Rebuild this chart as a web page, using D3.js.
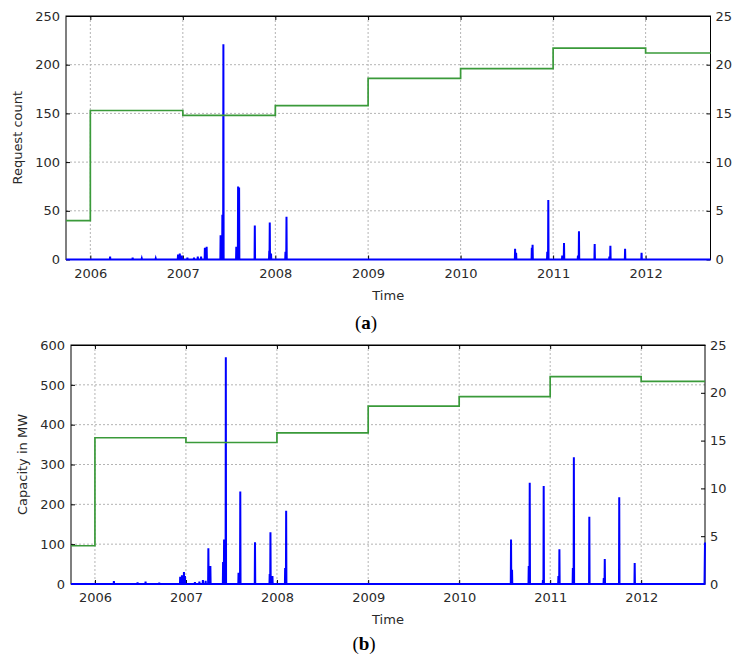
<!DOCTYPE html>
<html>
<head>
<meta charset="utf-8">
<script src="https://cdn.jsdelivr.net/npm/d3@7"></script>
<style>
  body { margin: 0; background: #fff; }
  text { font-family: "DejaVu Sans", sans-serif; }
</style>
</head>
<body>
<svg id="chart" width="732" height="658"></svg>
<script>
// time range of both panels
var startDate = "2005-09-27", endDate = "2012-09-13";

// right axis series (green steps), shared by both panels
var stepDates  = ["2005-09-27", "2006-01-01", "2007-01-01", "2008-01-01", "2009-01-01", "2010-01-01", "2011-01-01", "2012-01-01"];
var stepValues = [4, 15.3, 14.8, 15.8, 18.6, 19.6, 21.7, 21.2];

// panel (a): request count spikes
var requestDates = ["2006-03-20", "2006-06-17", "2006-07-23", "2006-09-16", "2006-12-13", "2006-12-20", "2006-12-28",
  "2007-01-19", "2007-02-14", "2007-03-01", "2007-03-14", "2007-03-29", "2007-04-05", "2007-05-30", "2007-06-06",
  "2007-06-10", "2007-07-31", "2007-08-07", "2007-08-11", "2007-10-12", "2007-12-08", "2007-12-10", "2007-12-15",
  "2008-02-10", "2008-02-14", "2010-08-04", "2010-08-08", "2010-10-09", "2010-10-12", "2010-12-09", "2010-12-13",
  "2011-02-06", "2011-02-13", "2011-04-09", "2011-04-13", "2011-06-14", "2011-08-11", "2011-08-15", "2011-10-12",
  "2011-12-16"];
var requestValues = [3, 2, 1, 1, 5, 6, 4,
  2, 2, 3, 3, 12, 13, 25, 46,
  221, 13, 75, 74, 35, 9, 38, 6,
  8, 44, 11, 7, 12, 15, 8, 61,
  4, 17, 4, 29, 16, 3, 14, 11,
  7];

// panel (b): capacity spikes in MW
var capacityDates = ["2006-03-18", "2006-06-21", "2006-07-23", "2006-09-16", "2006-12-09", "2006-12-16", "2006-12-24",
  "2006-12-28", "2007-02-06", "2007-02-24", "2007-03-10", "2007-03-21", "2007-04-01", "2007-04-09", "2007-05-30",
  "2007-06-03", "2007-06-10", "2007-07-31", "2007-08-07", "2007-10-05", "2007-12-03", "2007-12-06", "2007-12-14",
  "2008-02-03", "2008-02-07", "2010-07-28", "2010-08-01", "2010-10-07", "2010-10-11", "2010-12-03", "2010-12-06",
  "2011-02-03", "2011-02-07", "2011-04-02", "2011-04-06", "2011-06-07", "2011-08-04", "2011-08-08", "2011-10-05",
  "2011-12-06"];
var capacityValues = [7, 4, 6, 3, 18, 22, 30,
  20, 5, 6, 10, 8, 90, 45, 55,
  112, 569, 28, 232, 105, 25, 130, 20,
  40, 184, 112, 36, 45, 254, 10, 246,
  20, 87, 40, 318, 169, 15, 63, 218,
  53];
var capacityEndValue = 104;

var leftTicksA = [0, 50, 100, 150, 200, 250];
var leftTicksB = [0, 100, 200, 300, 400, 500, 600];
var rightTicks = [0, 5, 10, 15, 20, 25];

var parse = d3.timeParse("%Y-%m-%d");
var svg = d3.select("#chart");

function drawPanel(p) {
  var x = d3.scaleTime().domain([parse(startDate), parse(endDate)]).range([p.left, p.right]);
  var y = d3.scaleLinear().domain([0, d3.max(p.leftTicks)]).range([p.bottom, p.top]);
  var y2 = d3.scaleLinear().domain([0, 25]).range([p.bottom, p.top]);
  var years = d3.timeYear.range(parse("2006-01-01"), parse("2012-06-01"));

  var g = svg.append("g");

  // grid
  g.append("g").selectAll("line").data(years).enter().append("line")
    .attr("x1", function(d) { return x(d); }).attr("x2", function(d) { return x(d); })
    .attr("y1", p.top).attr("y2", p.bottom)
    .attr("stroke", "#b4b4b4").attr("stroke-dasharray", "2,2");
  g.append("g").selectAll("line").data(p.leftTicks.slice(1, -1)).enter().append("line")
    .attr("x1", p.left).attr("x2", p.right)
    .attr("y1", function(d) { return y(d); }).attr("y2", function(d) { return y(d); })
    .attr("stroke", "#b4b4b4").attr("stroke-dasharray", "2,2");

  g.append("rect")
    .attr("x", p.left).attr("y", p.top)
    .attr("width", p.right - p.left).attr("height", p.bottom - p.top)
    .attr("fill", "none").attr("stroke", "#000").attr("stroke-width", 1);

  // axes, ticks pointing inward
  var ax = g.append("g").attr("transform", "translate(0," + p.bottom + ")")
    .call(d3.axisBottom(x).tickValues(years).tickFormat(d3.timeFormat("%Y")).tickSizeInner(-4).tickSizeOuter(0).tickPadding(9));
  g.append("g").attr("transform", "translate(0," + p.top + ")")
    .call(d3.axisTop(x).tickValues(years).tickFormat("").tickSizeInner(-4).tickSizeOuter(0));
  var ay = g.append("g").attr("transform", "translate(" + p.left + ",0)")
    .call(d3.axisLeft(y).tickValues(p.leftTicks).tickSizeInner(-4).tickSizeOuter(0).tickPadding(6));
  var ay2 = g.append("g").attr("transform", "translate(" + p.right + ",0)")
    .call(d3.axisRight(y2).tickValues(rightTicks).tickSizeInner(-4).tickSizeOuter(0).tickPadding(5));
  [ax, ay, ay2].forEach(function(a) {
    a.select(".domain").remove();
    a.selectAll("text").attr("font-size", 13).attr("fill", "#2a2a2a").attr("font-family", "DejaVu Sans");
    a.selectAll("line").attr("stroke", "#000");
  });

  // blue spike series
  var pts = [[parse(startDate), 0]];
  p.dates.forEach(function(d, i) {
    var t = parse(d);
    pts.push([d3.timeDay.offset(t, -1), 0]);
    pts.push([t, p.values[i]]);
    pts.push([d3.timeDay.offset(t, 1), 0]);
  });
  pts.push([d3.timeDay.offset(parse(endDate), -2), 0]);
  pts.push([parse(endDate), p.endValue]);

  var line = d3.line()
    .x(function(d) { return x(d[0]); })
    .y(function(d) { return y(d[1]); });
  g.append("path").datum(pts)
    .attr("fill", "none").attr("stroke", "#0000ff").attr("stroke-width", 2)
    .attr("d", line);

  // green steps on right axis
  var steps = stepDates.map(function(d, i) { return [parse(d), stepValues[i]]; });
  steps.push([parse(endDate), stepValues[stepValues.length - 1]]);
  var stepLine = d3.line().curve(d3.curveStepAfter)
    .x(function(d) { return x(d[0]); })
    .y(function(d) { return y2(d[1]); });
  g.append("path").datum(steps)
    .attr("fill", "none").attr("stroke", "#3a9a3a").attr("stroke-width", 1.7)
    .attr("d", stepLine);

  // labels
  g.append("text")
    .attr("transform", "translate(" + p.ylabelX + "," + ((p.top + p.bottom) / 2) + ") rotate(-90)")
    .attr("text-anchor", "middle").attr("font-size", 13).attr("fill", "#2a2a2a")
    .text(p.ylabel);
  g.append("text")
    .attr("x", (p.left + p.right) / 2).attr("y", p.bottom + 40)
    .attr("text-anchor", "middle").attr("font-size", 13).attr("fill", "#2a2a2a")
    .text("Time");

  var tag = g.append("text")
    .attr("x", p.tagX).attr("y", p.tagY)
    .attr("text-anchor", "middle").attr("font-size", 19).attr("fill", "#000")
    .style("font-family", "'Liberation Serif', serif");
  tag.append("tspan").text("(");
  tag.append("tspan").attr("font-weight", "bold").text(p.tag);
  tag.append("tspan").text(")");
}

drawPanel({
  left: 66, right: 710.5, top: 16, bottom: 259.5,
  leftTicks: leftTicksA, dates: requestDates, values: requestValues, endValue: 0,
  ylabel: "Request count", ylabelX: 22, tag: "a", tagX: 366, tagY: 329
});
drawPanel({
  left: 71, right: 705, top: 345, bottom: 584,
  leftTicks: leftTicksB, dates: capacityDates, values: capacityValues, endValue: capacityEndValue,
  ylabel: "Capacity in MW", ylabelX: 27, tag: "b", tagX: 364, tagY: 650
});
</script>
</body>
</html>
